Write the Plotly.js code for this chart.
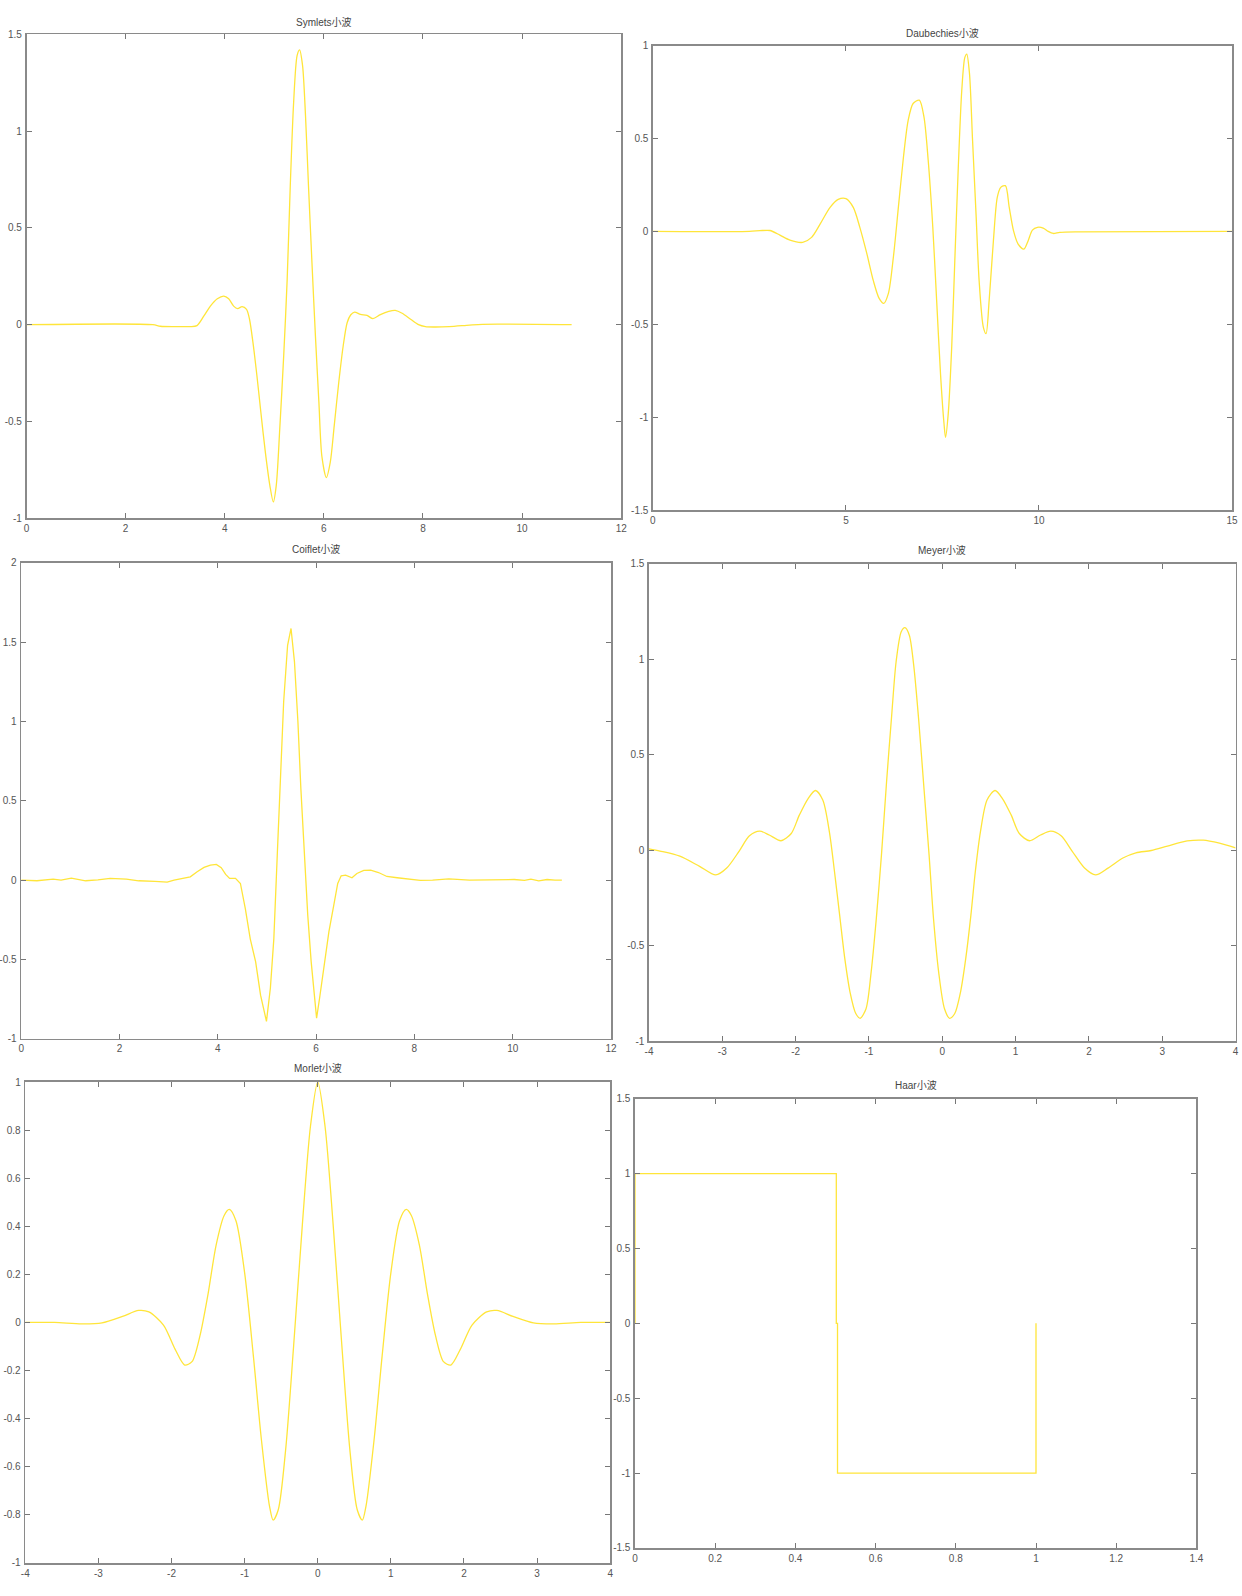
<!DOCTYPE html>
<html>
<head>
<meta charset="utf-8">
<script src="https://cdn.plot.ly/plotly-3.0.1.min.js"></script>
<style>html,body{margin:0;padding:0;background:#fff}#chart{width:1242px;height:1596px}</style>
</head>
<body>
<div id="chart"></div>
<script>
// ---- data ----
const titles = ["Symlets小波", "Daubechies小波", "Coiflet小波", "Meyer小波", "Morlet小波", "Haar小波"];

const symletsPts = [[0,0],[2.55,0],[2.7,-0.008],[3.0,-0.01],[3.3,-0.01],[3.44,-0.005],[3.58,0.045],[3.71,0.096],[3.85,0.134],[3.98,0.148],[4.08,0.134],[4.18,0.096],[4.26,0.083],[4.35,0.093],[4.44,0.079],[4.50,0.028],[4.57,-0.093],[4.65,-0.265],[4.73,-0.455],[4.82,-0.66],[4.91,-0.83],[4.98,-0.916],[5.04,-0.83],[5.11,-0.54],[5.19,-0.16],[5.26,0.234],[5.32,0.70],[5.39,1.147],[5.46,1.39],[5.51,1.42],[5.57,1.34],[5.63,1.08],[5.69,0.717],[5.76,0.32],[5.83,-0.059],[5.90,-0.40],[5.96,-0.68],[6.05,-0.79],[6.13,-0.71],[6.21,-0.52],[6.30,-0.30],[6.39,-0.11],[6.47,0.01],[6.54,0.05],[6.62,0.065],[6.74,0.053],[6.87,0.048],[6.99,0.031],[7.14,0.052],[7.31,0.069],[7.44,0.074],[7.58,0.059],[7.75,0.028],[7.91,0.0],[8.05,-0.01],[8.22,-0.012],[8.53,-0.01],[8.94,-0.002],[9.2,0.002],[11.0,0]];

const daubechiesPts = [[0,0],[2.5,0],[2.77,0.004],[3.03,0.005],[3.29,-0.02],[3.55,-0.047],[3.88,-0.059],[4.11,-0.032],[4.33,0.039],[4.59,0.129],[4.80,0.172],[5.0,0.176],[5.19,0.129],[5.36,0.022],[5.54,-0.118],[5.71,-0.265],[5.86,-0.36],[5.98,-0.387],[6.10,-0.333],[6.23,-0.136],[6.36,0.133],[6.49,0.40],[6.61,0.595],[6.74,0.688],[6.90,0.706],[7.02,0.617],[7.13,0.384],[7.25,0.022],[7.35,-0.373],[7.45,-0.767],[7.54,-1.033],[7.58,-1.108],[7.65,-0.98],[7.74,-0.62],[7.82,-0.158],[7.91,0.344],[8.00,0.757],[8.08,0.936],[8.13,0.954],[8.20,0.85],[8.28,0.49],[8.37,0.093],[8.45,-0.265],[8.56,-0.516],[8.63,-0.55],[8.71,-0.37],[8.82,-0.05],[8.92,0.183],[9.01,0.237],[9.13,0.246],[9.23,0.129],[9.34,0.004],[9.46,-0.068],[9.61,-0.095],[9.72,-0.05],[9.83,0.007],[9.96,0.022],[10.11,0.018],[10.24,0.0],[10.37,-0.011],[10.54,-0.005],[10.98,-0.002],[15,0]];

const coifletPts = [[0,0],[0.07,0],[0.32,-0.004],[0.65,0.006],[0.81,0],[1.02,0.013],[1.31,-0.004],[1.56,0.002],[1.81,0.011],[2.14,0.006],[2.39,-0.004],[2.72,-0.008],[2.97,-0.012],[3.11,0.0],[3.24,0.01],[3.44,0.021],[3.58,0.053],[3.72,0.08],[3.85,0.095],[3.97,0.099],[4.07,0.078],[4.16,0.036],[4.24,0.011],[4.36,0.011],[4.46,-0.021],[4.56,-0.18],[4.66,-0.37],[4.77,-0.515],[4.87,-0.725],[4.99,-0.89],[5.07,-0.68],[5.14,-0.37],[5.21,0.158],[5.27,0.62],[5.34,1.124],[5.42,1.48],[5.49,1.586],[5.56,1.376],[5.63,0.998],[5.69,0.578],[5.76,0.158],[5.83,-0.22],[5.90,-0.515],[5.97,-0.767],[6.01,-0.87],[6.07,-0.746],[6.16,-0.536],[6.26,-0.326],[6.36,-0.158],[6.44,-0.021],[6.51,0.027],[6.60,0.031],[6.73,0.015],[6.83,0.042],[6.97,0.061],[7.11,0.063],[7.27,0.048],[7.44,0.023],[7.65,0.015],[7.87,0.006],[8.12,-0.002],[8.37,0],[8.70,0.008],[9.12,0],[9.53,0.002],[9.78,0.006],[10.03,0.004],[10.24,-0.002],[10.37,0.006],[10.53,-0.004],[10.70,0.004],[10.86,0],[11.0,0]];

const meyerPts = [[-4,0.007],[-3.85,-0.005],[-3.58,-0.032],[-3.31,-0.085],[-3.09,-0.13],[-2.94,-0.094],[-2.77,-0.005],[-2.63,0.075],[-2.49,0.099],[-2.36,0.079],[-2.20,0.049],[-2.06,0.087],[-1.95,0.183],[-1.83,0.27],[-1.73,0.312],[-1.63,0.262],[-1.54,0.096],[-1.47,-0.113],[-1.40,-0.34],[-1.33,-0.567],[-1.26,-0.74],[-1.18,-0.855],[-1.12,-0.88],[-1.04,-0.83],[-0.97,-0.637],[-0.90,-0.358],[-0.83,-0.026],[-0.76,0.358],[-0.69,0.707],[-0.63,0.986],[-0.56,1.143],[-0.51,1.164],[-0.45,1.125],[-0.39,0.968],[-0.32,0.672],[-0.25,0.323],[-0.18,-0.026],[-0.12,-0.358],[-0.05,-0.637],[0.03,-0.83],[0.10,-0.88],[0.17,-0.855],[0.25,-0.74],[0.32,-0.567],[0.39,-0.34],[0.45,-0.113],[0.52,0.096],[0.61,0.262],[0.72,0.312],[0.82,0.27],[0.94,0.183],[1.05,0.087],[1.19,0.049],[1.34,0.079],[1.48,0.099],[1.62,0.075],[1.77,-0.005],[1.94,-0.094],[2.09,-0.13],[2.26,-0.094],[2.47,-0.04],[2.64,-0.014],[2.85,-0.002],[3.07,0.021],[3.34,0.048],[3.56,0.052],[3.78,0.036],[4.0,0.012]];

const morletPts = [[-4,0],[-3.6,0],[-3.23,-0.006],[-2.95,-0.002],[-2.67,0.025],[-2.45,0.05],[-2.31,0.044],[-2.11,-0.011],[-1.95,-0.112],[-1.82,-0.177],[-1.72,-0.163],[-1.61,-0.054],[-1.50,0.119],[-1.39,0.322],[-1.28,0.445],[-1.21,0.47],[-1.12,0.424],[-1.0,0.206],[-0.88,-0.141],[-0.77,-0.489],[-0.66,-0.764],[-0.61,-0.822],[-0.54,-0.779],[-0.44,-0.532],[-0.33,-0.098],[-0.21,0.409],[-0.10,0.815],[0,1.0],[0.10,0.815],[0.21,0.409],[0.33,-0.098],[0.44,-0.532],[0.54,-0.779],[0.61,-0.822],[0.66,-0.764],[0.77,-0.489],[0.88,-0.141],[1.0,0.206],[1.12,0.424],[1.21,0.47],[1.28,0.445],[1.39,0.322],[1.50,0.119],[1.61,-0.054],[1.72,-0.163],[1.82,-0.177],[1.95,-0.112],[2.11,-0.011],[2.31,0.044],[2.45,0.05],[2.67,0.025],[2.95,-0.002],[3.23,-0.006],[3.6,0],[4,0]];

const haarPts = [[0,0],[0,1],[0.502,1],[0.502,0],[0.505,0],[0.505,-1],[1.0,-1],[1.0,0]];

const xRanges = [[0,12],[0,15],[0,12],[-4,4],[-4,4],[0,1.4]];
const yRanges = [[-1,1.5],[-1.5,1],[-1,2],[-1,1.5],[-1,1],[-1.5,1.5]];
const xSteps = [2,5,2,1,1,0.2];
const ySteps = [0.5,0.5,0.5,0.5,0.2,0.5];

// ---- layout (pixel boxes of each axes: left, right, top, bottom, title y) ----
const W = 1242, H = 1596;
const boxes = [
  [26.5, 621.2, 34.4, 518.2, 22.4],
  [652.9, 1232, 45.5, 510.3, 32.7],
  [21.2, 611, 562.8, 1038.8, 549.3],
  [649, 1235.6, 563.5, 1041.2, 550],
  [25.3, 610.2, 1082, 1562.9, 1068],
  [635, 1196.4, 1098.7, 1547.9, 1084.8]
];
const series = [symletsPts, daubechiesPts, coifletPts, meyerPts, morletPts, haarPts];
const shapes = ['spline','spline','linear','spline','spline','linear'];

const fontFam = '"Liberation Sans Narrow", "Liberation Sans", "Noto Sans CJK SC", sans-serif';
const traces = [];
const layout = {
  width: W, height: H,
  margin: {l:0, r:0, t:0, b:0},
  paper_bgcolor: '#fff', plot_bgcolor: '#fff',
  showlegend: false,
  annotations: []
};

function tickVals(r, s) {
  const out = [];
  const n = Math.round((r[1]-r[0])/s);
  for (let i = 0; i <= n; i++) out.push(+(r[0] + i*s).toFixed(6));
  return out;
}

series.forEach((pts, i) => {
  const k = i === 0 ? '' : String(i+1);
  const b = boxes[i];
  traces.push({
    type: 'scatter', mode: 'lines',
    x: pts.map(p => p[0]), y: pts.map(p => p[1]),
    xaxis: 'x' + k, yaxis: 'y' + k,
    line: {color: '#FFE53A', width: 1.3, shape: shapes[i], smoothing: 0.8},
    hoverinfo: 'skip'
  });
  const common = {
    showgrid: false, zeroline: false,
    showline: true, mirror: 'ticks', linecolor: '#8a8a8a', linewidth: 1.6,
    ticks: 'inside', ticklen: 5, tickcolor: '#777', tickwidth: 1,
    tickfont: {family: fontFam, size: 10, color: '#555'},
    fixedrange: true
  };
  const xv = tickVals(xRanges[i], xSteps[i]);
  const yv = tickVals(yRanges[i], ySteps[i]);
  layout['xaxis' + k] = Object.assign({}, common, {
    domain: [b[0]/W, b[1]/W],
    range: xRanges[i], tickmode: 'array',
    tickvals: xv, ticktext: xv.map(v => String(v)),
    anchor: 'y' + k
  });
  layout['yaxis' + k] = Object.assign({}, common, {
    domain: [1 - b[3]/H, 1 - b[2]/H],
    range: yRanges[i], tickmode: 'array',
    tickvals: yv, ticktext: yv.map(v => String(v)),
    anchor: 'x' + k, ticklabelstandoff: 1
  });
  layout.annotations.push({
    text: titles[i], xref: 'paper', yref: 'paper',
    x: (b[0]+b[1])/2/W, y: 1 - b[4]/H,
    xanchor: 'center', yanchor: 'middle', showarrow: false,
    font: {family: fontFam, size: 10, color: '#444'}
  });
});

Plotly.newPlot('chart', traces, layout, {displayModeBar: false, staticPlot: true});
</script>
</body>
</html>
